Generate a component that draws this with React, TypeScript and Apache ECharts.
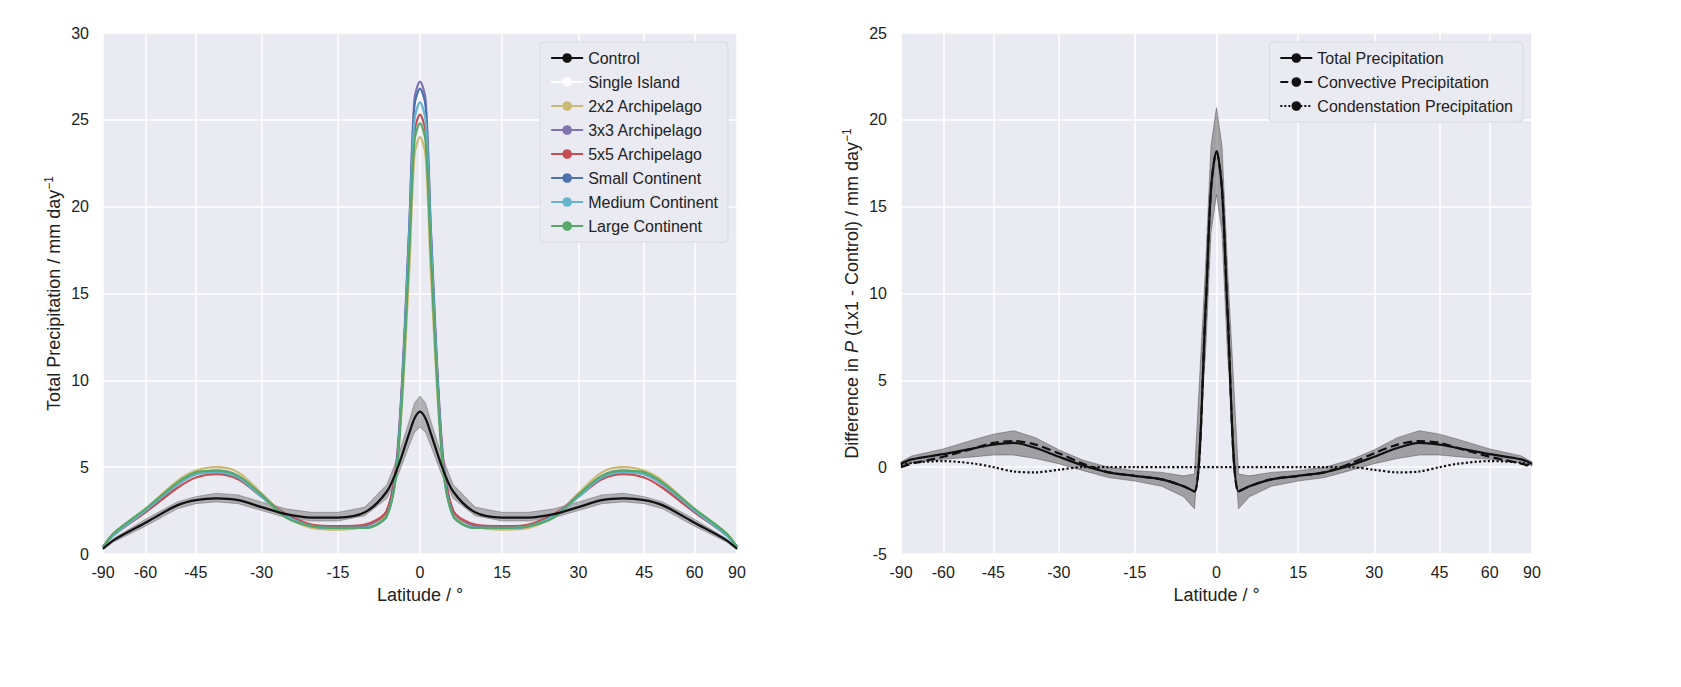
import React, { useEffect, useRef } from 'react';
import * as echarts from 'echarts';

const LAT = [-90, -75, -60, -50, -45, -40, -35, -30, -25, -20, -15, -10, -6, -4, -2, -1, 0, 1, 2, 4, 6, 10, 15, 20, 25, 30, 35, 40, 45, 50, 60, 75, 90];
const TICKS = [-90, -60, -45, -30, -15, 0, 15, 30, 45, 60, 90];

const control = [0.3, 0.8, 1.8, 2.8, 3.1, 3.2, 3.1, 2.7, 2.3, 2.1, 2.1, 2.4, 3.6, 5.0, 6.9, 7.8, 8.2, 7.8, 6.9, 5.0, 3.6, 2.4, 2.1, 2.1, 2.3, 2.7, 3.1, 3.2, 3.1, 2.8, 1.8, 0.8, 0.3];
const controlLo = [0.25, 0.7, 1.6, 2.6, 2.9, 3.0, 2.9, 2.5, 2.1, 1.9, 1.9, 2.2, 3.2, 4.5, 6.2, 7.0, 7.3, 7.0, 6.2, 4.5, 3.2, 2.2, 1.9, 1.9, 2.1, 2.5, 2.9, 3.0, 2.9, 2.6, 1.6, 0.7, 0.25];
const controlHi = [0.35, 0.9, 2.0, 3.0, 3.3, 3.5, 3.4, 3.0, 2.6, 2.4, 2.4, 2.7, 4.0, 5.6, 7.6, 8.7, 9.1, 8.7, 7.6, 5.6, 4.0, 2.7, 2.4, 2.4, 2.6, 3.0, 3.4, 3.5, 3.3, 3.0, 2.0, 0.9, 0.35];

const singleIsland = [0.4, 1.1, 2.5, 3.9, 4.5, 4.7, 4.4, 3.3, 2.2, 1.6, 1.5, 1.6, 2.4, 6.0, 18, 25.5, 26.5, 25.5, 18, 6.0, 2.4, 1.6, 1.5, 1.6, 2.2, 3.3, 4.4, 4.7, 4.5, 3.9, 2.5, 1.1, 0.4];
const arch2 = [0.4, 1.2, 2.6, 4.2, 4.8, 5.0, 4.7, 3.5, 2.2, 1.5, 1.4, 1.6, 2.3, 5.5, 16, 23, 24.0, 23, 16, 5.5, 2.3, 1.6, 1.4, 1.5, 2.2, 3.5, 4.7, 5.0, 4.8, 4.2, 2.6, 1.2, 0.4];
const arch3 = [0.4, 1.1, 2.5, 4.0, 4.6, 4.8, 4.5, 3.4, 2.2, 1.6, 1.5, 1.6, 2.5, 6.2, 18.5, 26.2, 27.2, 26.2, 18.5, 6.2, 2.5, 1.6, 1.5, 1.6, 2.2, 3.4, 4.5, 4.8, 4.6, 4.0, 2.5, 1.1, 0.4];
const arch5 = [0.4, 1.1, 2.4, 3.8, 4.4, 4.6, 4.3, 3.3, 2.3, 1.7, 1.6, 1.7, 2.5, 6.0, 17.5, 24.3, 25.3, 24.3, 17.5, 6.0, 2.5, 1.7, 1.6, 1.7, 2.3, 3.3, 4.3, 4.6, 4.4, 3.8, 2.4, 1.1, 0.4];
const smallCont = [0.4, 1.1, 2.5, 4.0, 4.6, 4.7, 4.4, 3.3, 2.2, 1.6, 1.5, 1.5, 2.2, 5.8, 18.2, 25.8, 26.8, 25.8, 18.2, 5.8, 2.2, 1.5, 1.5, 1.6, 2.2, 3.3, 4.4, 4.7, 4.6, 4.0, 2.5, 1.1, 0.4];
const mediumCont = [0.4, 1.1, 2.5, 4.0, 4.6, 4.7, 4.4, 3.3, 2.2, 1.6, 1.5, 1.5, 2.2, 5.7, 17.8, 25.0, 26.0, 25.0, 17.8, 5.7, 2.2, 1.5, 1.5, 1.6, 2.2, 3.3, 4.4, 4.7, 4.6, 4.0, 2.5, 1.1, 0.4];
const largeCont = [0.4, 1.2, 2.6, 4.1, 4.7, 4.8, 4.5, 3.4, 2.1, 1.6, 1.5, 1.5, 2.2, 5.5, 17, 23.8, 24.8, 23.8, 17, 5.5, 2.2, 1.5, 1.5, 1.6, 2.1, 3.4, 4.5, 4.8, 4.7, 4.1, 2.6, 1.2, 0.4];

const totalDiff = [0.2, 0.45, 0.75, 1.1, 1.3, 1.4, 1.1, 0.6, 0.1, -0.3, -0.5, -0.7, -1.1, -1.4, 9, 16, 18.2, 16, 9, -1.4, -1.1, -0.7, -0.5, -0.3, 0.1, 0.6, 1.1, 1.4, 1.3, 1.1, 0.75, 0.45, 0.2];
const totalLo = [0.1, 0.25, 0.45, 0.6, 0.7, 0.7, 0.5, 0.2, -0.2, -0.6, -0.8, -1.1, -1.7, -2.4, 6.5, 13.5, 15.7, 13.5, 6.5, -2.4, -1.7, -1.1, -0.8, -0.6, -0.2, 0.2, 0.5, 0.7, 0.7, 0.6, 0.45, 0.25, 0.1];
const totalHi = [0.3, 0.65, 1.05, 1.6, 1.9, 2.1, 1.7, 1.0, 0.4, 0.0, -0.2, -0.3, -0.5, -0.4, 11.5, 18.5, 20.7, 18.5, 11.5, -0.4, -0.5, -0.3, -0.2, 0.0, 0.4, 1.0, 1.7, 2.1, 1.9, 1.6, 1.05, 0.65, 0.3];
const convDiff = [0.0, 0.2, 0.6, 1.1, 1.4, 1.5, 1.3, 0.8, 0.2, -0.3, -0.5, -0.7, -1.1, -1.4, 9, 16, 18.2, 16, 9, -1.4, -1.1, -0.7, -0.5, -0.3, 0.2, 0.8, 1.3, 1.5, 1.4, 1.1, 0.6, 0.2, 0.0];
const condDiff = [0.1, 0.25, 0.35, 0.2, 0.0, -0.25, -0.3, -0.15, 0, 0, 0, 0, 0, 0, 0, 0, 0, 0, 0, 0, 0, 0, 0, 0, 0, -0.15, -0.3, -0.25, 0.0, 0.2, 0.35, 0.25, 0.1];

const LEFT_SERIES: [string, number[], string][] = [
  ['Single Island', singleIsland, '#ffffff'],
  ['2x2 Archipelago', arch2, '#ccb974'],
  ['3x3 Archipelago', arch3, '#8172b2'],
  ['5x5 Archipelago', arch5, '#c44e52'],
  ['Small Continent', smallCont, '#4c72b0'],
  ['Medium Continent', mediumCont, '#64b5cd'],
  ['Large Continent', largeCont, '#55a868'],
];

const FONT = 'Liberation Sans';
const toX = (lat: number) => Math.sin((lat * Math.PI) / 180);
const pts = (vals: number[]) => LAT.map((l, i) => [toX(l), vals[i]]);

const xAxisFor = (gridIndex: number) => ({
  type: 'value',
  gridIndex,
  min: -1,
  max: 1,
  name: 'Latitude / °',
  nameLocation: 'middle',
  nameGap: 32,
  nameTextStyle: { fontSize: 18, color: '#222' },
  axisLine: { show: false },
  axisTick: { show: false, customValues: TICKS.map(toX) },
  axisLabel: {
    customValues: TICKS.map(toX),
    fontSize: 16,
    color: '#222',
    margin: 10,
    formatter: (v: number) => String(Math.round((Math.asin(Math.max(-1, Math.min(1, v))) * 180) / Math.PI)),
  },
  splitLine: { show: true, lineStyle: { color: '#fff', width: 1.5 } },
});

const yAxisFor = (gridIndex: number, min: number, max: number, name: string, rich: any) => ({
  type: 'value',
  gridIndex,
  min,
  max,
  interval: 5,
  name,
  nameLocation: 'middle',
  nameGap: 38,
  nameTextStyle: { fontSize: 18, color: '#222', rich },
  axisLine: { show: false },
  axisTick: { show: false },
  axisLabel: { fontSize: 16, color: '#222', margin: 14 },
  splitLine: { lineStyle: { color: '#fff', width: 1.5 } },
});

// shaded spread between lo and hi, drawn through the axis scales
const band = (lo: number[], hi: number[], idx: number, color: string, opacity: number) => ({
  type: 'custom',
  xAxisIndex: idx,
  yAxisIndex: idx,
  silent: true,
  z: 1,
  data: [[0, 0]],
  renderItem: (_p: any, api: any) => {
    const top = LAT.map((l, i) => api.coord([toX(l), hi[i]]));
    const bottom = LAT.map((l, i) => api.coord([toX(l), lo[i]])).reverse();
    return {
      type: 'polygon',
      shape: { points: [...top, ...bottom] },
      style: { fill: color, opacity, stroke: color, lineWidth: 1 },
    };
  },
});

const line = (name: string, vals: number[], idx: number, color: string, type: any = 'solid', z = 3) => ({
  type: 'line', name, xAxisIndex: idx, yAxisIndex: idx, data: pts(vals), symbol: 'none', smooth: 0.3, z,
  lineStyle: { color, width: 2.2, type }, itemStyle: { color },
});

export default function App() {
  const ref = useRef<HTMLDivElement>(null);

  useEffect(() => {
    if (!ref.current) return;
    const chart = echarts.init(ref.current, undefined, { renderer: 'svg' });
    const legendBase = {
      orient: 'vertical', itemWidth: 32, itemHeight: 12, itemGap: 8,
      textStyle: { fontSize: 16, color: '#222' },
      backgroundColor: '#eaeaf2', borderColor: '#d8d8e0', borderWidth: 1, borderRadius: 4,
      padding: [8, 10, 8, 10],
    };
    chart.setOption({
      animation: false,
      textStyle: { fontFamily: FONT },
      grid: [
        { left: 95, right: 936, top: 25, bottom: 125, backgroundColor: '#eaeaf2', show: true, borderWidth: 0 },
        { left: 893, right: 141, top: 25, bottom: 125, backgroundColor: '#eaeaf2', show: true, borderWidth: 0 },
      ],
      xAxis: [xAxisFor(0), xAxisFor(1)],
      yAxis: [
        yAxisFor(0, 0, 30, 'Total Precipitation / mm day{s|−1}', { s: { fontSize: 12, verticalAlign: 'top', padding: [0, 0, 10, 0] } }),
        yAxisFor(1, -5, 25, 'Difference in {i|P} (1x1 - Control) / mm day{s|−1}', {
          s: { fontSize: 12, verticalAlign: 'top', padding: [0, 0, 10, 0] },
          i: { fontSize: 18, fontStyle: 'italic' },
        }),
      ],
      legend: [
        {
          ...legendBase, right: 945, top: 34,
          data: ['Control', ...LEFT_SERIES.map((s) => s[0])],
        },
        {
          ...legendBase, right: 150, top: 34,
          data: ['Total Precipitation', 'Convective Precipitation', 'Condenstation Precipitation'],
        },
      ],
      series: [
        band(controlLo, controlHi, 0, '#555', 0.4),
        ...LEFT_SERIES.map(([n, v, c]) => line(n, v, 0, c)),
        line('Control', control, 0, '#111', 'solid', 5),
        band(totalLo, totalHi, 1, '#444', 0.45),
        line('Total Precipitation', totalDiff, 1, '#111', 'solid', 5),
        line('Convective Precipitation', convDiff, 1, '#111', 'dashed', 5),
        line('Condenstation Precipitation', condDiff, 1, '#111', 'dotted', 5),
      ],
    });
    return () => chart.dispose();
  }, []);

  return <div ref={ref} style={{ width: 1665, height: 671 }} />;
}
